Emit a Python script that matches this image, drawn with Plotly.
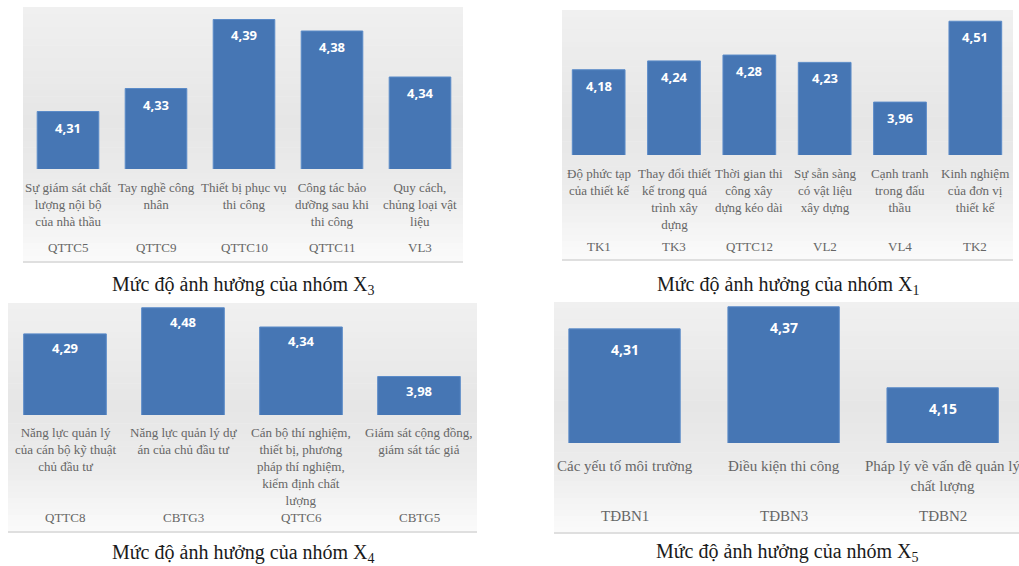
import plotly.graph_objects as go

W, H = 1019, 566

# ---------------- data ----------------
x3_codes = ["QTTC5", "QTTC9", "QTTC10", "QTTC11", "VL3"]
x3_labels = ["Sự giám sát chất<br>lượng nội bộ<br>của nhà thầu", "Tay nghề công<br>nhân",
             "Thiết bị phục vụ<br>thi công", "Công tác bảo<br>dưỡng sau khi<br>thi công",
             "Quy cách,<br>chủng loại vật<br>liệu"]
x3_values = [4.31, 4.33, 4.39, 4.38, 4.34]

x1_codes = ["TK1", "TK3", "QTTC12", "VL2", "VL4", "TK2"]
x1_labels = ["Độ phức tạp<br>của thiết kế", "Thay đổi thiết<br>kế trong quá<br>trình xây<br>dựng",
             "Thời gian thi<br>công xây<br>dựng kéo dài", "Sự sẵn sàng<br>có vật liệu<br>xây dựng",
             "Cạnh tranh<br>trong đấu<br>thầu", "Kinh nghiệm<br>của đơn vị<br>thiết kế"]
x1_values = [4.18, 4.24, 4.28, 4.23, 3.96, 4.51]

x4_codes = ["QTTC8", "CBTG3", "QTTC6", "CBTG5"]
x4_labels = ["Năng lực quản lý<br>của cán bộ kỹ thuật<br>chủ đầu tư", "Năng lực quản lý dự<br>án của chủ đầu tư",
             "Cán bộ thí nghiệm,<br>thiết bị, phương<br>pháp thí nghiệm,<br>kiểm định chất<br>lượng",
             "Giám sát cộng đồng,<br>giám sát tác giả"]
x4_values = [4.29, 4.48, 4.34, 3.98]

x5_codes = ["TĐBN1", "TĐBN3", "TĐBN2"]
x5_labels = ["Các yếu tố môi trường", "Điều kiện thi công", "Pháp lý về vấn đề quản lý<br>chất lượng"]
x5_values = [4.31, 4.37, 4.15]

captions = ["Mức độ ảnh hưởng của nhóm X<sub>3</sub>", "Mức độ ảnh hưởng của nhóm X<sub>1</sub>",
            "Mức độ ảnh hưởng của nhóm X<sub>4</sub>", "Mức độ ảnh hưởng của nhóm X<sub>5</sub>"]

# ---------------- layout config (pixels) ----------------
panels = [
    dict(codes=x3_codes, labels=x3_labels, values=x3_values, cap=captions[0],
         dom_x=(24, 464), dom_y=(8, 169), yr=(4.26, 4.40), xr=None, bg=(23, 463, 7, 262),
         lab_top=178, code_y=247, cap_xy=(243, 285), lsize=13, vshift=-16, vsize=13),
    dict(codes=x1_codes, labels=x1_labels, values=x1_values, cap=captions[1],
         dom_x=(561, 1013), dom_y=(8, 155), yr=(3.6, 4.6), xr=None, bg=(562, 1013, 10, 260),
         lab_top=164, code_y=246, cap_xy=(788, 285), lsize=13, vshift=-16, vsize=13),
    dict(codes=x4_codes, labels=x4_labels, values=x4_values, cap=captions[2],
         dom_x=(6, 478), dom_y=(305, 415), yr=(3.7, 4.5), xr=None, bg=(8, 477, 303, 532),
         lab_top=423, code_y=517, cap_xy=(243, 553), lsize=13, vshift=-14, vsize=13),
    dict(codes=x5_codes, labels=x5_labels, values=x5_values, cap=captions[3],
         dom_x=(545, 1019), dom_y=(302, 443), yr=(4.0, 4.383), xr=(-0.5, 2.48), bg=(554, 1019, 302, 533),
         lab_top=456, code_y=516, cap_xy=(787, 552), lsize=15, vshift=-21, vsize=14),
]

BAR = "#4676b4"
TXT = "#666666"
SERIF = "Liberation Serif"
SANS = "Open Sans"


def px(x):
    return x / W


def py(y):
    return 1 - y / H


def mix(c1, c2, t):
    return "#%02x%02x%02x" % tuple(int(round(a + (b - a) * t)) for a, b in zip(c1, c2))


grad_stops = [(0.0, (240, 240, 240)), (0.45, (230, 230, 230)), (0.72, (236, 236, 236)), (1.0, (251, 251, 251))]


def grad_color(t):
    for (t0, c0), (t1, c1) in zip(grad_stops[:-1], grad_stops[1:]):
        if t <= t1:
            return mix(c0, c1, (t - t0) / (t1 - t0))
    return mix(grad_stops[-1][1], grad_stops[-1][1], 0)


fig = go.Figure()
shapes = []
annotations = []
layout_axes = {}

for i, p in enumerate(panels):
    n = i + 1
    xa = "x" if n == 1 else f"x{n}"
    ya = "y" if n == 1 else f"y{n}"
    cats = list(range(len(p["codes"])))

    fig.add_trace(go.Bar(x=cats, y=p["values"], xaxis=xa, yaxis=ya,
                         marker=dict(color=BAR, line=dict(color="#5b8bc8", width=1)),
                         width=0.70, hoverinfo="skip", showlegend=False))

    # background gradient bands
    x0, x1, y0, y1 = p["bg"]
    nb = 40
    for k in range(nb):
        ya0 = y0 + (y1 - y0) * k / nb
        ya1 = y0 + (y1 - y0) * (k + 1) / nb + 0.6
        shapes.append(dict(type="rect", xref="paper", yref="paper", layer="below",
                           x0=px(x0), x1=px(x1), y0=py(ya1), y1=py(ya0),
                           fillcolor=grad_color((k + 0.5) / nb), line=dict(width=0)))
    shapes.append(dict(type="line", xref="paper", yref="paper", layer="above",
                       x0=px(x0), x1=px(x1), y0=py(y1), y1=py(y1),
                       line=dict(color="#d6d6d6", width=1.5)))

    xr = p["xr"] if p["xr"] else (-0.5, len(cats) - 0.5)
    layout_axes["xaxis" if n == 1 else f"xaxis{n}"] = dict(
        domain=[px(p["dom_x"][0]), px(p["dom_x"][1])], range=list(xr), anchor=ya,
        visible=False, fixedrange=True)
    layout_axes["yaxis" if n == 1 else f"yaxis{n}"] = dict(
        domain=[py(p["dom_y"][1]), py(p["dom_y"][0])], range=list(p["yr"]), anchor=xa,
        visible=False, fixedrange=True)

    for c, lab, code, v in zip(cats, p["labels"], p["codes"], p["values"]):
        annotations.append(dict(x=c, y=v, xref=xa, yref=ya, text=f"{v:.2f}".replace(".", ","),
                                showarrow=False, yanchor="middle", yshift=p["vshift"],
                                font=dict(family=SANS, size=p["vsize"], color="white", weight="bold")))
        annotations.append(dict(x=c, y=py(p["lab_top"]), xref=xa, yref="paper", text=lab,
                                showarrow=False, yanchor="top", align="center",
                                font=dict(family=SERIF, size=p["lsize"], color=TXT)))
        annotations.append(dict(x=c, y=py(p["code_y"]), xref=xa, yref="paper", text=code,
                                showarrow=False, yanchor="middle", align="center",
                                font=dict(family=SERIF, size=p["lsize"], color=TXT)))

    annotations.append(dict(x=px(p["cap_xy"][0]), y=py(p["cap_xy"][1]), xref="paper", yref="paper",
                            text=p["cap"], showarrow=False, xanchor="center", yanchor="middle",
                            font=dict(family=SERIF, size=20, color="#1a1a1a")))

fig.update_layout(width=W, height=H, margin=dict(l=0, r=0, t=0, b=0),
                  paper_bgcolor="white", plot_bgcolor="rgba(0,0,0,0)",
                  bargap=0.3, shapes=shapes, annotations=annotations, **layout_axes)

fig.write_html("out.html", config={"displayModeBar": False})
